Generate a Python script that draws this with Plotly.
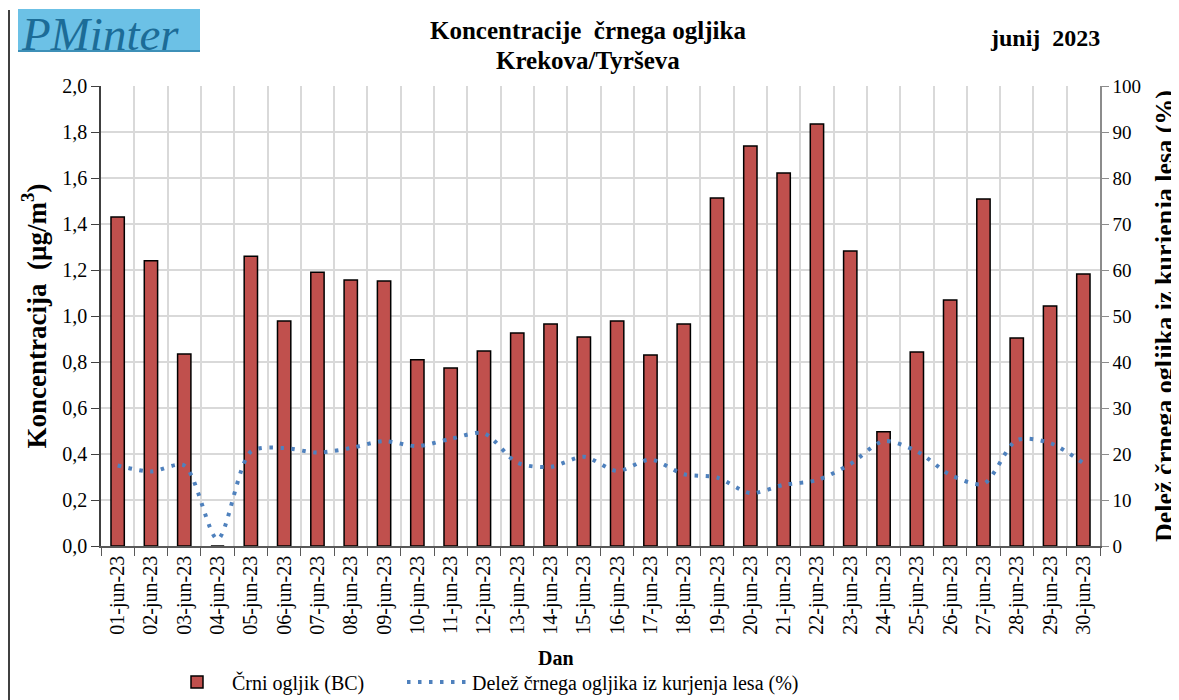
import plotly.graph_objects as go

days = [f"{d:02d}-jun-23" for d in range(1, 31)]
bc = [1.43, 1.24, 0.835, 0.0, 1.26, 0.978, 1.19, 1.157, 1.152, 0.81,
      0.774, 0.848, 0.926, 0.965, 0.909, 0.978, 0.83, 0.965, 1.513, 1.739,
      1.622, 1.835, 1.283, 0.497, 0.843, 1.07, 1.509, 0.904, 1.043, 1.183]
wood = [17.5, 16.2, 17.5, 1.5, 20.5, 21.3, 20.3, 21.3, 22.8, 21.7,
        23.3, 24.5, 18.1, 17.2, 19.4, 16.3, 18.8, 15.6, 14.9, 11.5,
        13.3, 14.3, 17.8, 22.8, 20.6, 15.5, 13.5, 23.0, 22.4, 18.0]
y_ticks = [round(i * 0.2, 1) for i in range(11)]
y2_ticks = list(range(0, 101, 10))

SERIF = "Liberation Serif, Times New Roman, serif"
OFF = 8  # page body margin of the html
W, H = 1179 - OFF, 700 - OFF
ML, MR, MT, MB = 101 - OFF, 79, 86 - OFF, 154
PW, PH = W - ML - MR, H - MT - MB


def px(x):
    return (x - OFF - ML) / PW


def py(y):
    return (H - MB - (y - OFF)) / PH


fig = go.Figure()
fig.add_trace(go.Bar(
    x=days, y=bc, name="Črni ogljik (BC)",
    marker=dict(color="#C0504D", line=dict(color="black", width=1.5)),
    yaxis="y", legend="legend",
))
fig.add_trace(go.Scatter(
    x=days, y=wood, name="Delež črnega ogljika iz kurjenja lesa (%)",
    mode="lines", line=dict(color="#4F81BD", width=4, dash="3.5px,7.5px",
                            shape="spline", smoothing=0.8),
    yaxis="y2", legend="legend2",
))

leg_common = dict(orientation="h", xanchor="left", yanchor="middle",
                  font=dict(family=SERIF, size=20, color="black"), itemwidth=60,
                  bgcolor="rgba(0,0,0,0)")

fig.update_layout(
    width=W, height=H,
    margin=dict(l=ML, r=MR, t=MT, b=MB, autoexpand=False),
    paper_bgcolor="white", plot_bgcolor="white",
    separators=", ",
    bargap=0.6,
    font=dict(family=SERIF, size=20, color="black"),
    showlegend=True,
    legend=dict(x=px(162), y=py(682), **leg_common),
    legend2=dict(x=px(402), y=py(682), **leg_common),
    xaxis=dict(
        type="category", tickangle=-90, tickson="boundaries",
        showgrid=True, gridcolor="#D9D9D9", gridwidth=1.5,
        showline=True, linecolor="#595959", linewidth=1.5,
        ticks="outside", ticklen=8, tickcolor="#595959",
        tickfont=dict(family=SERIF, size=20, color="black"),
        automargin=False,
    ),
    yaxis=dict(
        range=[0, 2.0], tickvals=y_ticks, tickformat=".1f",
        showgrid=True, gridcolor="#D9D9D9", gridwidth=1.5,
        showline=True, linecolor="#404040", linewidth=1.5,
        ticks="outside", ticklen=8, tickcolor="#404040",
        tickfont=dict(family=SERIF, size=20, color="black"),
        zeroline=False, automargin=False,
        title=dict(text="<b>Koncentracija  (µg/m<sup>3</sup>)</b>",
                   font=dict(family=SERIF, size=27, color="black"), standoff=8),
    ),
    yaxis2=dict(
        range=[0, 100], tickvals=y2_ticks, overlaying="y", side="right",
        showgrid=False, zeroline=False, automargin=False,
        showline=True, linecolor="#8C8C8C", linewidth=1.5,
        ticks="outside", ticklen=7, tickcolor="#8C8C8C",
        tickfont=dict(family=SERIF, size=19, color="black"),
        title=dict(text="<b>Delež črnega ogljika iz kurjenja lesa (%)</b>",
                   font=dict(family=SERIF, size=26, color="black"), standoff=22),
    ),
)

# left page border line
fig.add_shape(type="line", xref="paper", yref="paper",
              x0=px(9), x1=px(9), y0=py(10), y1=py(700),
              line=dict(color="black", width=1.5))
# logo background
fig.add_shape(type="rect", xref="paper", yref="paper",
              x0=px(18), x1=px(200), y0=py(52), y1=py(9),
              fillcolor="#6CC1E6", line=dict(width=0))
fig.add_shape(type="line", xref="paper", yref="paper",
              x0=px(18), x1=px(200), y0=py(51), y1=py(51),
              line=dict(color="#2E7FA8", width=1.5))

annotations = [
    dict(text="<i>PMinter</i>", x=px(20), y=py(34), xanchor="left", yanchor="middle",
         font=dict(family=SERIF, size=47, color="#1C6C97"), borderpad=0),
    dict(text="<b>Koncentracije  črnega ogljika</b>", x=px(588), y=py(31),
         xanchor="center", yanchor="middle", font=dict(family=SERIF, size=25, color="black")),
    dict(text="<b>Krekova/Tyrševa</b>", x=px(588), y=py(60),
         xanchor="center", yanchor="middle", font=dict(family=SERIF, size=25, color="black")),
    dict(text="<b>junij  2023</b>", x=px(1102), y=py(38),
         xanchor="right", yanchor="middle", font=dict(family=SERIF, size=24, color="black")),
    dict(text="<b>Dan</b>", x=px(556), y=py(658),
         xanchor="center", yanchor="middle", font=dict(family=SERIF, size=20, color="black"),
         height=18, borderpad=0),
]
for a in annotations:
    a.update(xref="paper", yref="paper", showarrow=False)
fig.update_layout(annotations=annotations)

fig.write_html("out.html")
